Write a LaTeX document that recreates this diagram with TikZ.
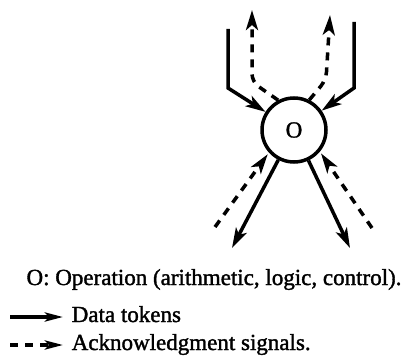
\documentclass[tikz,border=0pt]{standalone}
\usepackage{fontspec}
\setmainfont{Liberation Serif}[FakeBold=1.5]
\usetikzlibrary{arrows.meta}
\begin{document}
\begin{tikzpicture}[x=1pt,y=1pt,line width=3.5pt,
    tip/.style={-{Stealth[length=20pt,width=12pt,inset=5pt]}},
    smalltip/.style={-{Stealth[length=18pt,width=9pt,inset=4pt]}},
    ack/.style={dash pattern=on 8pt off 7pt},
    every node/.style={font=\fontsize{23}{26}\selectfont,inner sep=0pt}]
  \useasboundingbox (0,0) rectangle (410,357);
  \node[circle,draw,minimum size=64pt] (op) at (294,227) {O};
  % data tokens in and out
  \coordinate (inL) at (228,328);
  \coordinate (inLb) at (228,269);
  \coordinate (inR) at (354,335);
  \coordinate (inRb) at (354,269);
  \coordinate (outL) at (232,109);
  \coordinate (outR) at (350,109);
  \draw[tip] (inL) -- (inLb) -- (op);
  \draw[tip] (inR) -- (inRb) -- (op);
  \draw[tip] (op) -- (outL);
  \draw[tip] (op) -- (outR);
  % acknowledgment signals
  \coordinate (ackL) at (252,347);
  \coordinate (ackLb) at (252,275);
  \coordinate (ackR) at (330,342);
  \coordinate (ackRb) at (326,277);
  \coordinate (ackinL) at (215,130);
  \coordinate (ackinR) at (372,129);
  \draw[ack,tip,rounded corners=8pt] (op.118) -- (ackLb) -- (ackL);
  \draw[ack,tip,rounded corners=8pt] (op.63) -- (ackRb) -- (ackR);
  \draw[ack,tip,shorten >=2pt] (ackinL) -- (op.222);
  \draw[ack,tip,shorten >=2pt] (ackinR) -- (op.-40);
  % legend
  \node[anchor=base] (optext) at (214,72) {O: Operation (arithmetic, logic, control).};
  \node[anchor=base west] (datatext) at (70,35) {Data tokens};
  \node[anchor=base west] (acktext) at (70,7) {Acknowledgment signals.};
  \coordinate (dataA) at (10,40);
  \coordinate (ackA) at (10,12);
  \draw[smalltip,shorten >=7pt] (dataA) -- (dataA -| datatext.west);
  \draw[ack,smalltip,shorten >=7pt] (ackA) -- (ackA -| acktext.west);
\end{tikzpicture}
\end{document}
